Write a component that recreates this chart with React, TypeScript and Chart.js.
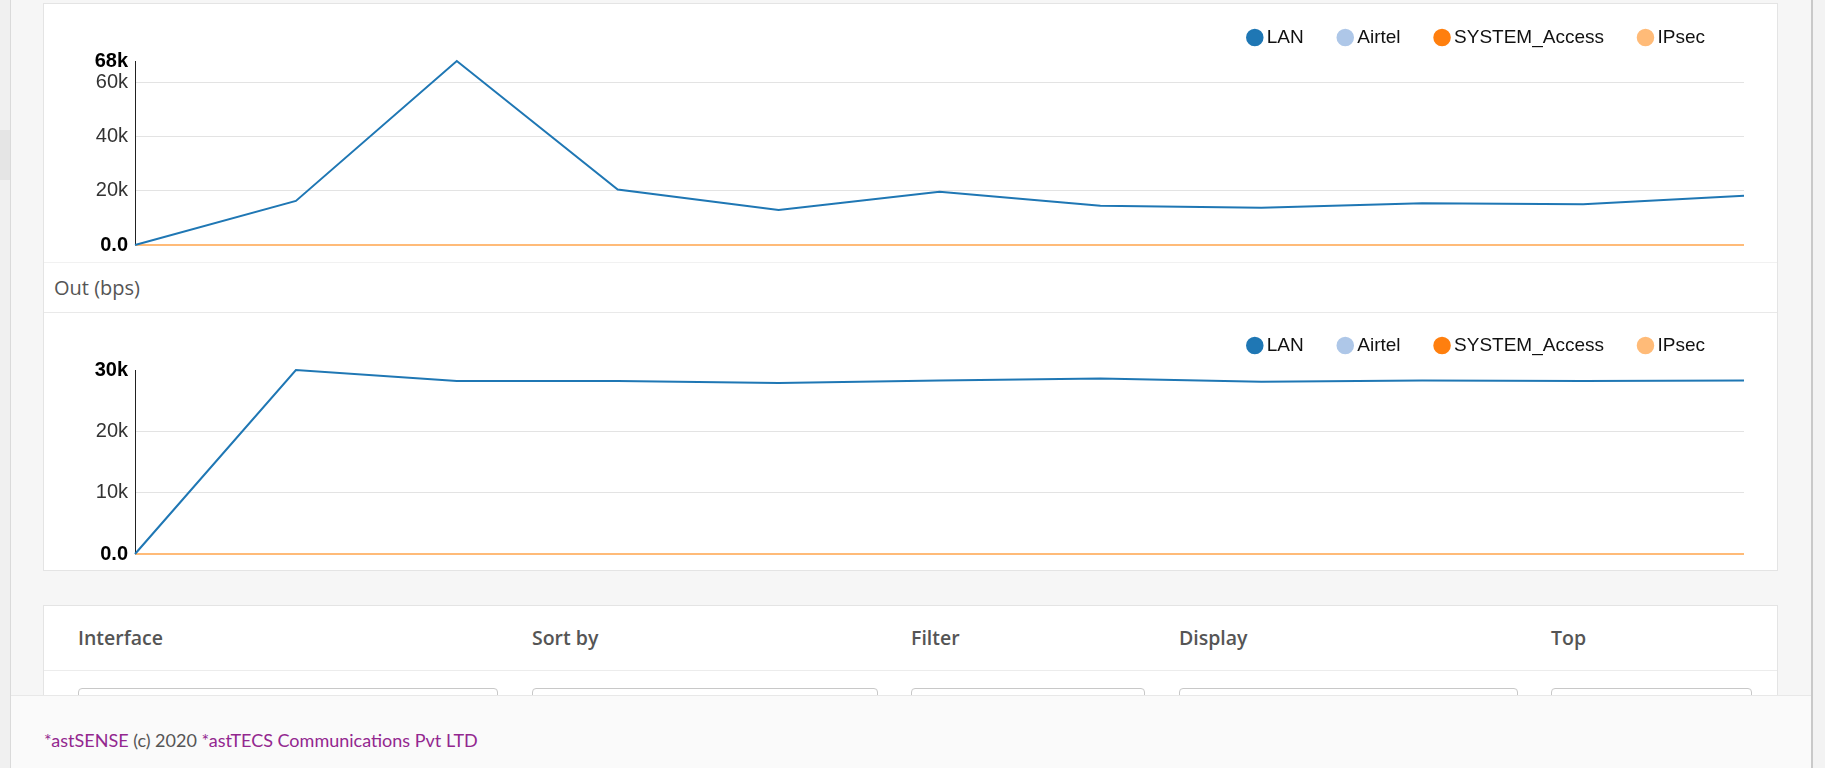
import React, { useEffect, useRef } from 'react';
import { Chart, registerables } from 'chart.js';

Chart.register(...registerables);

// ---- data ----
const timeLabels = ['1', '2', '3', '4', '5', '6', '7', '8', '9', '10', '11'];
const seriesNames = ['LAN', 'Airtel', 'SYSTEM_Access', 'IPsec'];
const seriesColors = ['#1f77b4', '#aec7e8', '#ff7f0e', '#ffbb78'];

const inLAN = [0, 16300, 68000, 20500, 12900, 19700, 14500, 13800, 15400, 15100, 18200];
const inAirtel = [0, 0, 0, 0, 0, 0, 0, 0, 0, 0, 0];
const inSystemAccess = [0, 0, 0, 0, 0, 0, 0, 0, 0, 0, 0];
const inIPsec = [0, 0, 0, 0, 0, 0, 0, 0, 0, 0, 0];
const inTicks = [0, 20000, 40000, 60000, 68000];

const outLAN = [0, 30000, 28200, 28200, 27900, 28300, 28600, 28100, 28300, 28200, 28300];
const outAirtel = [0, 0, 0, 0, 0, 0, 0, 0, 0, 0, 0];
const outSystemAccess = [0, 0, 0, 0, 0, 0, 0, 0, 0, 0, 0];
const outIPsec = [0, 0, 0, 0, 0, 0, 0, 0, 0, 0, 0];
const outTicks = [0, 10000, 20000, 30000];

const formLabels = ['Interface', 'Sort by', 'Filter', 'Display', 'Top'];

const legendGap = {
  id: 'legendGap',
  beforeInit(chart: any, _args: any, opts: any) {
    const legend = chart.legend;
    if (!legend) return;
    const fit = legend.fit;
    legend.fit = function () {
      fit.call(this);
      this.height += (opts && opts.extra) || 0;
    };
  },
};

function fmt(v: number) {
  return v === 0 ? '0.0' : Math.round(v / 1000) + 'k';
}

type LCProps = {
  top: number;
  left: number;
  width: number;
  height: number;
  series: number[][];
  ticks: number[];
  extra: number;
};

function LineChart({ top, left, width, height, series, ticks, extra }: LCProps) {
  const ref = useRef<HTMLCanvasElement>(null);
  useEffect(() => {
    const max = ticks[ticks.length - 1];
    const orders = [0, 3, 2, 1];
    const chart = new Chart(ref.current as HTMLCanvasElement, {
      type: 'line',
      data: {
        labels: timeLabels,
        datasets: series.map((d, i) => ({
          label: seriesNames[i],
          data: d,
          borderColor: seriesColors[i],
          backgroundColor: seriesColors[i],
          borderWidth: 2,
          pointRadius: 0,
          pointHoverRadius: 0,
          tension: 0,
          fill: false,
          clip: 3,
          order: orders[i],
        })),
      },
      options: {
        animation: false,
        responsive: false,
        devicePixelRatio: 1,
        layout: { padding: { left: 0, right: 34, top: 0, bottom: 14 } },
        plugins: {
          tooltip: { enabled: false },
          legend: {
            display: true,
            position: 'top',
            align: 'end',
            labels: {
              usePointStyle: true,
              pointStyle: 'circle',
              boxWidth: 5,
              boxHeight: 11,
              padding: 39,
              color: '#111',
              font: { family: '"Liberation Sans", Arial, sans-serif', size: 19, lineHeight: 1 },
              sort: (a: any, b: any) => a.datasetIndex - b.datasetIndex,
            },
          },
          legendGap: { extra },
        } as any,
        scales: {
          x: { type: 'category', display: false, offset: false },
          y: {
            type: 'linear',
            min: 0,
            max,
            afterBuildTicks: (scale: any) => {
              scale.ticks = ticks.map((v) => ({ value: v }));
            },
            afterFit: (scale: any) => {
              scale.width = 92;
            },
            border: { display: true, color: '#222', width: 1 },
            grid: {
              drawTicks: false,
              color: (ctx: any) => (ctx.tick && ctx.tick.value === max ? 'rgba(0,0,0,0)' : '#e3e3e3'),
              lineWidth: 1,
            },
            ticks: {
              autoSkip: false,
              padding: 7,
              callback: (v: any) => fmt(Number(v)),
              color: (ctx: any) =>
                ctx.tick && (ctx.tick.value === 0 || ctx.tick.value === max) ? '#000' : '#333',
              font: (ctx: any) => ({
                family: '"Liberation Sans", Arial, sans-serif',
                size: 20,
                weight: ctx.tick && (ctx.tick.value === 0 || ctx.tick.value === max) ? 'bold' : 'normal',
              }),
            },
          },
        },
      } as any,
      plugins: [legendGap as any],
    });
    return () => chart.destroy();
  }, []);
  return (
    <canvas
      ref={ref}
      width={width}
      height={height}
      style={{ position: 'absolute', left, top, width, height }}
    />
  );
}

const abs = (s: React.CSSProperties): React.CSSProperties => ({ position: 'absolute', ...s });

export default function App() {
  const formX = [78, 532, 911, 1179, 1551];
  const inputs: [number, number][] = [
    [78, 498],
    [532, 878],
    [911, 1145],
    [1179, 1518],
    [1551, 1752],
  ];
  return (
    <div style={abs({ left: 0, top: 0, width: 1825, height: 768, overflow: 'hidden', background: '#f6f6f6', position: 'fixed' })}>
      {/* left strip */}
      <div style={abs({ left: 0, top: 0, width: 10, height: 768, background: '#f0f0f0', borderRight: '1px solid #dadada' })} />
      <div style={abs({ left: 0, top: 130, width: 10, height: 50, background: '#e5e5e5' })} />
      {/* right edge */}
      <div style={abs({ left: 1811, top: 0, width: 2, height: 768, background: '#c9c9c9' })} />
      <div style={abs({ left: 1813, top: 0, width: 12, height: 768, background: '#f3f3f3' })} />

      {/* top panel */}
      <div style={abs({ left: 43, top: 3, width: 1733, height: 566, background: '#fff', border: '1px solid #e4e4e4' })} />
      <div style={abs({ left: 44, top: 262, width: 1733, height: 1, background: '#f1f1f1' })} />
      <div style={abs({ left: 44, top: 312, width: 1733, height: 1, background: '#e9e9e9' })} />
      <div
        style={abs({
          left: 54,
          top: 276,
          height: 24,
          lineHeight: '24px',
          fontFamily: '"Open Sans", sans-serif',
          fontSize: 20,
          color: '#555',
          whiteSpace: 'nowrap',
        })}
      >
        Out (bps)
      </div>

      <LineChart
        top={-11}
        left={43}
        width={1735}
        height={275}
        series={[inLAN, inAirtel, inSystemAccess, inIPsec]}
        ticks={inTicks}
        extra={4}
      />
      <LineChart
        top={297}
        left={43}
        width={1735}
        height={276}
        series={[outLAN, outAirtel, outSystemAccess, outIPsec]}
        ticks={outTicks}
        extra={5}
      />

      {/* form panel */}
      <div style={abs({ left: 43, top: 605, width: 1733, height: 200, background: '#fff', border: '1px solid #e4e4e4' })} />
      <div style={abs({ left: 44, top: 670, width: 1733, height: 1, background: '#ececec' })} />
      {formLabels.map((t, i) => (
        <div
          key={t}
          style={abs({
            left: formX[i],
            top: 626,
            height: 24,
            lineHeight: '24px',
            fontFamily: '"Open Sans", sans-serif',
            fontWeight: 600,
            fontSize: 19.5,
            color: '#555',
            whiteSpace: 'nowrap',
          })}
        >
          {t}
        </div>
      ))}
      {inputs.map(([a, b], i) => (
        <div
          key={i}
          style={abs({ left: a, top: 688, width: b - a, height: 30, border: '1px solid #c8c8c8', borderRadius: 4, background: '#fff', boxSizing: 'border-box' })}
        />
      ))}

      {/* footer */}
      <div style={abs({ left: 11, top: 695, width: 1800, height: 73, background: '#fafafa', borderTop: '1px solid #e8e8e8' })} />
      <div
        style={abs({
          left: 44,
          top: 728,
          height: 24,
          lineHeight: '24px',
          fontFamily: 'Lato, sans-serif',
          fontSize: 18,
          color: '#555',
          whiteSpace: 'nowrap',
        })}
      >
        <span style={{ color: '#93278f' }}>*astSENSE</span> (c) 2020{' '}
        <span style={{ color: '#93278f' }}>*astTECS Communications Pvt LTD</span>
      </div>
    </div>
  );
}
